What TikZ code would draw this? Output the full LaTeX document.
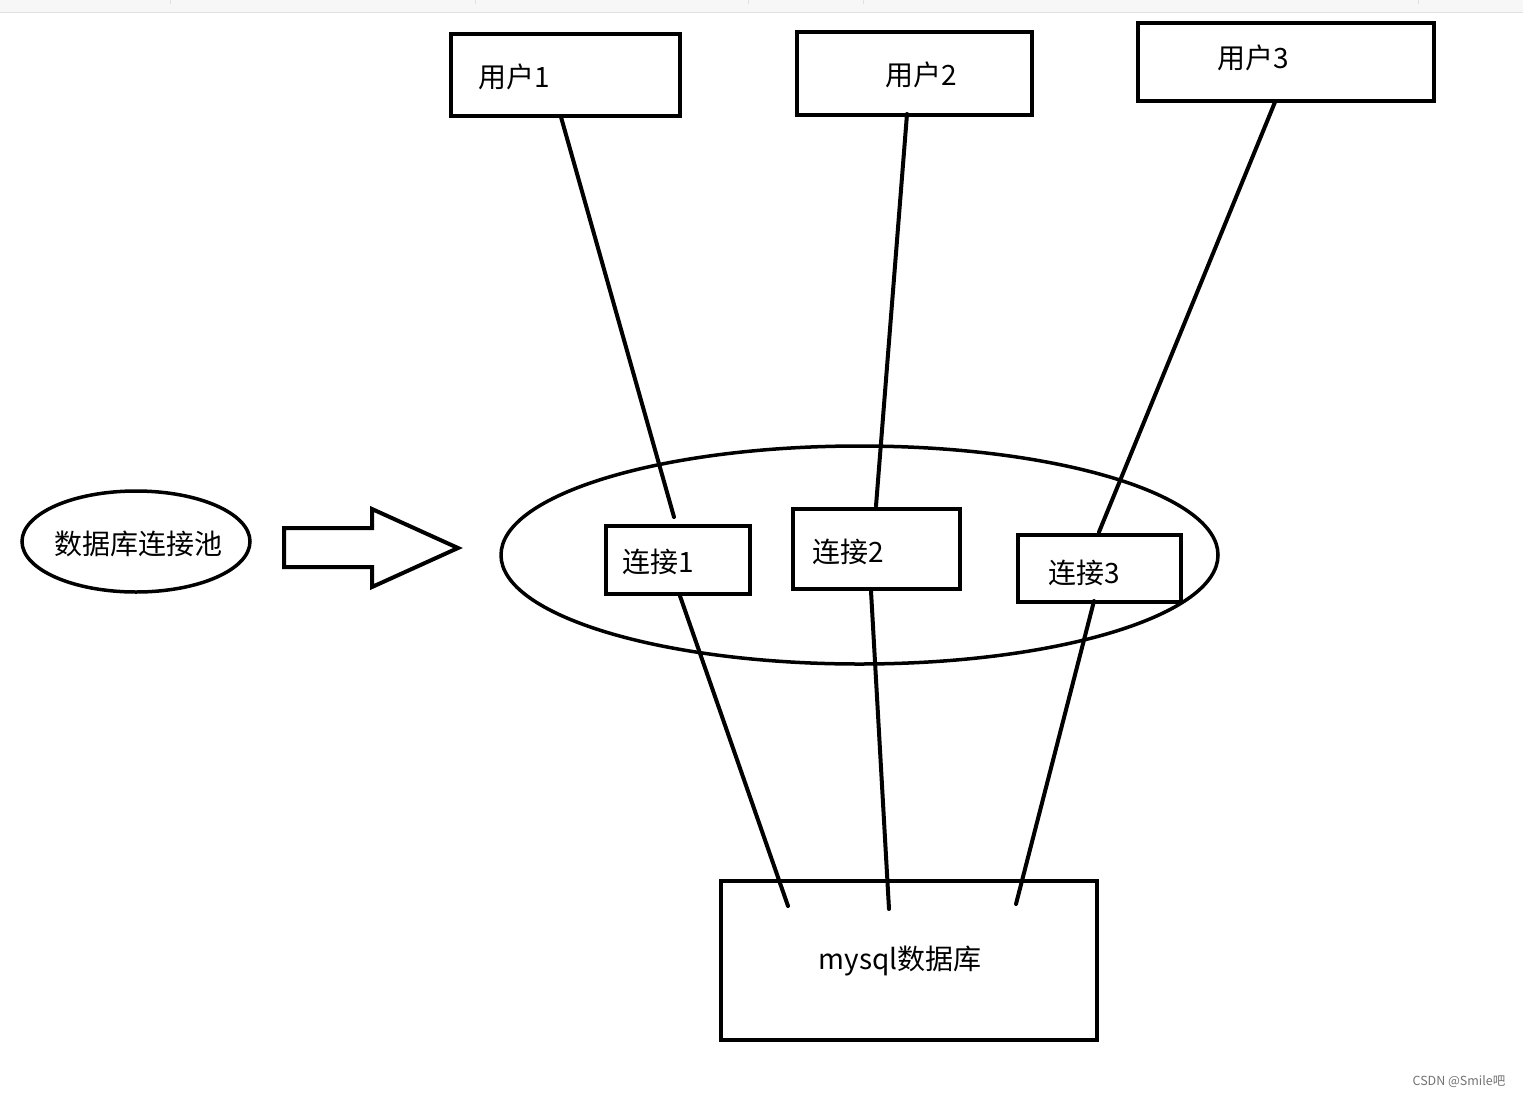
\documentclass[tikz,border=0pt]{standalone}
\usepackage{fontspec}
\setmainfont{Noto Sans CJK SC}
\usetikzlibrary{shapes.geometric}
\begin{document}
\begin{tikzpicture}[x=1pt,y=-1pt,
  box/.style={draw, line width=4pt, inner sep=0pt},
  lbl/.style={inner sep=0pt, font=\fontsize{28}{30}\selectfont},
  conn/.style={line width=4pt, line cap=round},
  oval/.style={draw, ellipse, line width=3.5pt, inner sep=0pt}]
\useasboundingbox (0,0) rectangle (1523,1098);
\fill[white] (0,0) rectangle (1523,1098);
% top toolbar strip
\fill[black!3] (0,0) rectangle (1523,12);
\draw[black!12, line width=1.2pt] (0,12.5) -- (1523,12.5);
\foreach \xx in {170,475,748,863,1418}
  \draw[black!12, line width=0.8pt] (\xx,0) -- (\xx,4);

% user boxes
\node[box, minimum width=229, minimum height=82] (u1) at (565.5,75) {};
\node[box, minimum width=235, minimum height=83] (u2) at (914.5,73.5) {};
\node[box, minimum width=296, minimum height=78] (u3) at (1286,62) {};
\node[lbl] (t1) at (514,77) {用户1};
\node[lbl] (t2) at (921,75) {用户2};
\node[lbl] (t3) at (1253,58) {用户3};

% pool ellipse and label oval
\node[oval, minimum width=717, minimum height=218] (pool) at (859.5,555) {};
\node[oval, minimum width=228, minimum height=101] (poolname) at (136,541.5) {};
\node[lbl] (poolt) at (138,544) {数据库连接池};

% big arrow
\draw[line width=4pt, line join=miter] (284,528) -- (372,528) -- (372,509) -- (458,548) -- (372,587) -- (372,567) -- (284,567) -- cycle;

% connection boxes
\node[box, minimum width=144, minimum height=68] (c1) at (678,560) {};
\node[box, minimum width=167, minimum height=80] (c2) at (876.5,549) {};
\node[box, minimum width=163, minimum height=67] (c3) at (1099.5,568.5) {};
\node[lbl] (ct1) at (658,562) {连接1};
\node[lbl] (ct2) at (848,552) {连接2};
\node[lbl] (ct3) at (1084,573) {连接3};

% database box
\node[box, minimum width=376, minimum height=159] (db) at (909,960.5) {};
\node[lbl] (dbt) at (900,961) {mysql数据库};

% line end points
\coordinate (a1) at (561,117);  \coordinate (b1) at (674,517);
\coordinate (a2) at (907,114);  \coordinate (b2) at (876,506);
\coordinate (a3) at (1275,102); \coordinate (b3) at (1099,532);
\coordinate (d1) at (680,596);  \coordinate (e1) at (788,906);
\coordinate (d2) at (871,591);  \coordinate (e2) at (889,909);
\coordinate (d3) at (1094,601); \coordinate (e3) at (1016,904);

\draw[conn] (a1) -- (b1);
\draw[conn] (a2) -- (b2);
\draw[conn] (a3) -- (b3);
\draw[conn] (d1) -- (e1);
\draw[conn] (d2) -- (e2);
\draw[conn] (d3) -- (e3);

% watermark
\node[inner sep=0pt, text=black!55, font=\fontsize{12.5}{14}\selectfont] (wm) at (1459,1082) {CSDN @Smile吧};
\end{tikzpicture}
\end{document}
